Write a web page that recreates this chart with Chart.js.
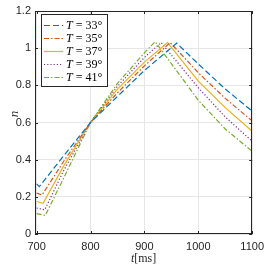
<!DOCTYPE html>
<html>
<head>
<meta charset="utf-8">
<script src="https://cdn.jsdelivr.net/npm/chart.js@4.4.1/dist/chart.umd.min.js"></script>
<style>
  html, body { margin: 0; padding: 0; background: #fff; }
  #wrap { width: 270px; height: 270px; position: relative; }
</style>
</head>
<body>
<div id="wrap"><canvas id="myChart"></canvas></div>
<script>
// datos
const temps = [33, 35, 37, 39, 41];
const t33 = [700, 705, 750, 800, 850, 900, 960, 1000, 1050, 1100];
const n33 = [0.27, 0.255, 0.42, 0.60, 0.74, 0.88, 1.027, 0.915, 0.78, 0.661];
const t35 = [700, 710, 750, 800, 850, 900, 948, 1000, 1050, 1100];
const n35 = [0.22, 0.21, 0.39, 0.60, 0.76, 0.905, 1.03, 0.868, 0.73, 0.608];
const t37 = [700, 712, 750, 800, 850, 900, 943, 1000, 1050, 1100];
const n37 = [0.175, 0.165, 0.365, 0.60, 0.78, 0.925, 1.03, 0.823, 0.68, 0.553];
const t39 = [700, 715, 750, 800, 850, 900, 931, 1000, 1050, 1100];
const n39 = [0.14, 0.13, 0.34, 0.60, 0.795, 0.95, 1.03, 0.787, 0.63, 0.499];
const t41 = [700, 716, 750, 800, 850, 900, 920, 1000, 1050, 1100];
const n41 = [0.11, 0.10, 0.30, 0.60, 0.81, 0.975, 1.035, 0.72, 0.565, 0.445];
const xTicks = [700, 800, 900, 1000, 1100];
const yTicks = [0, 0.2, 0.4, 0.6, 0.8, 1, 1.2];

const series = [[t33, n33], [t35, n35], [t37, n37], [t39, n39], [t41, n41]];
const colores = ['#0072BD', '#D95319', '#EDB120', '#7E2F8E', '#77AC30'];
const guiones = [[6, 3], [5, 2, 1.5, 2], [], [1.2, 2], [5, 2, 1.5, 2]];

const datasets = series.map((s, i) => ({
    label: 'T = ' + temps[i] + '°',
    data: s[0].map((t, k) => ({ x: t, y: s[1][k] })),
    borderColor: colores[i],
    borderWidth: 1.2,
    borderDash: guiones[i],
    pointRadius: 0,
    tension: 0,
    fill: false
}));

const ejeColor = '#262626';

// caja, ticks hacia adentro, etiquetas y leyenda estilo matlab
const marco = {
    id: 'marco',
    afterDatasetsDraw(chart) {
        const ctx = chart.ctx;
        const a = chart.chartArea;
        const xs = chart.scales.x, ys = chart.scales.y;
        ctx.save();
        ctx.strokeStyle = ejeColor;
        ctx.lineWidth = 1;
        ctx.setLineDash([]);
        ctx.strokeRect(Math.round(a.left) + 0.5, Math.round(a.top) + 0.5,
            Math.round(a.right - a.left) - 1, Math.round(a.bottom - a.top) - 1);
        ctx.beginPath();
        xTicks.forEach(v => {
            const px = Math.round(xs.getPixelForValue(v)) + 0.5;
            ctx.moveTo(px, a.bottom); ctx.lineTo(px, a.bottom - 3);
            ctx.moveTo(px, a.top); ctx.lineTo(px, a.top + 3);
        });
        yTicks.forEach(v => {
            const py = Math.round(ys.getPixelForValue(v)) + 0.5;
            ctx.moveTo(a.left, py); ctx.lineTo(a.left + 3, py);
            ctx.moveTo(a.right, py); ctx.lineTo(a.right - 3, py);
        });
        ctx.stroke();

        // leyenda
        const lx = 41, ly = 14, lw = 66, lh = 72;
        ctx.fillStyle = '#fff';
        ctx.fillRect(lx, ly, lw, lh);
        ctx.strokeStyle = ejeColor;
        ctx.strokeRect(lx + 0.5, ly + 0.5, lw, lh);
        chart.data.datasets.forEach((d, i) => {
            const y = 25 + i * 13;
            ctx.strokeStyle = d.borderColor;
            ctx.lineWidth = 1.2;
            ctx.setLineDash(d.borderDash);
            ctx.beginPath();
            ctx.moveTo(44, y + 0.5); ctx.lineTo(63, y + 0.5);
            ctx.stroke();
            ctx.setLineDash([]);
            ctx.fillStyle = '#000';
            ctx.textBaseline = 'middle';
            ctx.textAlign = 'left';
            ctx.font = 'italic 12px "Liberation Serif"';
            ctx.fillText('T', 66, y + 1);
            const w = ctx.measureText('T').width;
            ctx.font = '12px "Liberation Serif"';
            ctx.fillText(' = ' + temps[i] + '°', 66 + w, y + 1);
        });

        // etiquetas de ejes
        ctx.fillStyle = '#262626';
        ctx.textBaseline = 'middle';
        ctx.font = 'italic 12px "Liberation Serif"';
        const wt = ctx.measureText('t').width;
        ctx.font = '12px "Liberation Serif"';
        const wm = ctx.measureText('[ms]').width;
        const cx = (a.left + a.right) / 2;
        const x0 = cx - (wt + wm) / 2;
        ctx.font = 'italic 12px "Liberation Serif"';
        ctx.fillText('t', x0, 259);
        ctx.font = '12px "Liberation Serif"';
        ctx.fillText('[ms]', x0 + wt, 259);

        ctx.translate(15, 114);
        ctx.rotate(-Math.PI / 2);
        ctx.textAlign = 'center';
        ctx.font = 'italic 13px "Liberation Serif"';
        ctx.fillText('n', 0, 0);
        ctx.restore();
    }
};

const ctx = document.getElementById('myChart').getContext('2d');
new Chart(ctx, {
    type: 'line',
    data: { datasets: datasets },
    plugins: [marco],
    options: {
        responsive: true,
        maintainAspectRatio: false,
        animation: false,
        layout: { padding: { top: 11, right: 13, left: 0, bottom: 0 } },
        plugins: { legend: { display: false }, tooltip: { enabled: false } },
        scales: {
            x: {
                type: 'linear',
                min: 697,
                max: 1100,
                afterFit: s => { s.height = 36; },
                afterBuildTicks: s => { s.ticks = xTicks.map(v => ({ value: v })); },
                grid: { color: '#e6e6e6', drawTicks: false },
                border: { display: false },
                ticks: {
                    padding: 6,
                    color: ejeColor,
                    maxRotation: 0,
                    font: { family: 'Liberation Sans', size: 11 },
                    callback: v => String(v)
                }
            },
            y: {
                type: 'linear',
                min: 0,
                max: 1.2,
                afterFit: s => { s.width = 35; },
                afterBuildTicks: s => { s.ticks = yTicks.map(v => ({ value: v })); },
                grid: { color: '#e6e6e6', drawTicks: false },
                border: { display: false },
                ticks: {
                    padding: 4,
                    color: ejeColor,
                    font: { family: 'Liberation Sans', size: 11 },
                    callback: v => String(Math.round(v * 10) / 10)
                }
            }
        }
    }
});
</script>
</body>
</html>
